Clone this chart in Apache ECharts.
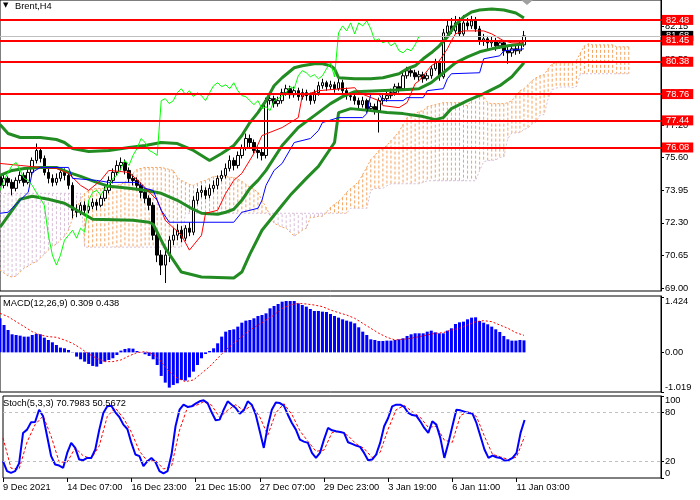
<!DOCTYPE html>
<html><head><meta charset="utf-8">
<script src="https://cdn.jsdelivr.net/npm/echarts@6.0.0/dist/echarts.min.js"></script>
<style>html,body{margin:0;padding:0;background:#fff}#c{width:700px;height:500px}</style>
</head><body><div id="c"></div>
<script>
// ---- data ----
const tickLabels = ["9 Dec 2021","14 Dec 07:00","16 Dec 23:00","21 Dec 15:00","27 Dec 07:00","29 Dec 23:00","3 Jan 19:00","6 Jan 11:00","11 Jan 03:00"];
const slotCount = 165; // bars + ichimoku forward shift + chart margin
const priceTicks = [69.00,70.65,72.30,73.95,75.60,77.20,78.85,80.50,82.15];
const levels = [82.48,81.45,80.38,78.76,77.44,76.08];
const lastPrice = 81.68;
// [open, close, low, high]
const candles = [
[74.63,74.18,73.93,74.83],[74.18,74.53,74.03,74.73],[74.53,74.33,74.13,74.63],[74.33,74.03,73.68,74.48],[74.03,74.43,73.88,74.58],
[74.43,74.68,74.28,74.88],[74.68,74.33,74.13,74.83],[74.33,74.83,74.23,75.03],[74.83,75.43,74.68,75.58],[75.43,75.93,75.28,76.28],
[75.93,75.53,75.33,76.08],[75.53,74.83,74.68,75.68],[74.83,74.53,74.28,75.03],[74.53,74.33,74.13,74.73],[74.33,74.53,74.18,74.78],
[74.53,74.83,74.38,74.98],[74.83,74.68,74.43,75.03],[74.68,74.18,73.98,74.83],[74.18,72.93,72.53,74.33],[72.93,72.83,72.58,73.23],
[72.83,73.18,72.68,73.33],[73.18,72.93,72.73,73.38],[72.93,73.13,72.78,73.28],[73.13,73.33,72.98,73.53],[73.33,73.18,72.93,73.48],
[73.18,73.53,73.08,73.68],[73.53,73.93,73.38,74.13],[73.93,74.43,73.78,74.63],[74.43,74.83,74.28,75.03],[74.83,75.18,74.68,75.43],
[75.18,75.33,74.93,75.58],[75.33,74.93,74.73,75.48],[74.93,74.53,74.33,75.08],[74.53,74.43,74.18,74.73],[74.43,74.18,73.93,74.58],
[74.18,73.83,73.53,74.33],[73.83,73.53,73.28,74.03],[73.53,73.18,72.93,73.68],[73.18,71.68,71.43,73.33],[71.68,70.68,70.33,71.93],
[70.68,70.18,69.68,70.93],[70.18,70.68,69.28,71.03],[70.68,71.43,70.33,71.63],[71.43,71.68,71.18,72.03],[71.68,71.93,71.43,72.23],
[71.93,71.53,71.33,72.13],[71.53,72.03,71.38,72.18],[72.03,71.83,71.63,72.33],[71.83,73.43,71.68,73.63],[73.43,73.83,73.23,74.03],
[73.83,73.93,73.58,74.18],[73.93,73.68,73.48,74.08],[73.68,74.03,73.53,74.23],[74.03,74.18,73.83,74.43],[74.18,74.53,73.98,74.68],
[74.53,74.68,74.38,74.93],[74.68,75.03,74.53,75.28],[75.03,75.43,74.88,75.68],[75.43,75.18,74.93,75.58],[75.18,75.68,75.03,75.88],
[75.68,76.03,75.53,76.23],[76.03,76.53,75.93,76.78],[76.53,76.33,76.08,76.73],[76.33,75.93,75.78,76.48],[75.93,75.83,75.53,76.13],
[75.83,75.68,75.43,76.03],[75.68,78.43,75.53,78.58],[78.43,78.53,78.23,78.78],[78.53,78.28,78.08,78.68],[78.28,78.43,78.13,78.63],
[78.43,78.83,78.28,79.03],[78.83,79.03,78.68,79.23],[79.03,78.73,78.53,79.18],[78.73,78.93,78.58,79.13],[78.93,78.63,78.43,79.08],
[78.63,78.83,78.48,79.03],[78.83,78.68,78.43,78.98],[78.68,78.43,78.23,78.83],[78.43,78.83,78.28,78.98],[78.83,79.18,78.68,79.38],
[79.18,79.33,79.03,79.53],[79.33,79.13,78.93,79.43],[79.13,79.23,78.98,79.43],[79.23,79.03,78.83,79.38],[79.03,79.33,78.93,79.53],
[79.33,78.93,78.78,79.48],[78.93,78.68,78.48,79.08],[78.68,78.63,78.43,78.83],[78.63,78.43,78.23,78.78],[78.43,78.23,78.03,78.58],
[78.23,78.43,78.08,78.63],[78.43,78.03,77.83,78.53],[78.03,78.13,77.88,78.33],[78.13,77.93,77.73,78.28],[77.93,78.43,76.83,78.58],
[78.43,78.53,78.23,78.73],[78.53,78.68,78.38,78.88],[78.68,78.83,78.53,79.03],[78.83,79.13,78.68,79.28],[79.13,79.03,78.83,79.33],
[79.03,79.68,78.93,79.83],[79.68,79.93,79.53,80.13],[79.93,79.83,79.63,80.08],[79.83,79.63,79.48,79.98],[79.63,79.73,79.43,79.93],
[79.73,79.53,79.33,79.88],[79.53,79.68,79.43,79.83],[79.68,80.03,79.53,80.18],[80.03,80.33,79.93,80.53],[80.33,79.63,79.43,80.48],
[79.63,81.83,79.53,82.03],[81.83,82.18,81.68,82.43],[82.18,81.93,81.78,82.58],[81.93,82.33,81.78,82.68],[82.33,81.78,81.63,82.63],
[81.78,82.33,81.68,82.73],[82.33,82.18,81.98,82.58],[82.18,82.43,82.03,82.68],[82.43,82.03,81.88,82.63],[82.03,81.43,81.23,82.18],
[81.43,81.53,81.18,81.78],[81.53,81.33,81.03,81.68],[81.33,81.43,81.13,81.63],[81.43,81.18,80.93,81.58],[81.18,81.33,81.03,81.48],
[81.33,80.93,80.68,81.43],[80.93,80.83,80.28,81.13],[80.83,81.03,80.63,81.23],[81.03,80.93,80.73,81.18],[80.93,81.23,80.78,81.38],
[81.23,81.68,81.13,81.93]
];
// Ichimoku Senkou Span A / B per bar (incl. 26 bars ahead)
const spanA = [
69.93,69.78,69.63,69.58,69.63,69.83,70.03,70.13,70.28,70.33,
70.53,70.73,70.93,71.13,71.23,71.43,71.63,71.93,72.53,73.03,
73.48,73.78,73.93,73.98,74.03,74.03,74.03,74.08,74.13,74.18,
74.23,74.33,74.53,74.78,74.98,75.03,75.08,75.08,75.08,75.08,
75.08,75.03,74.98,74.93,74.58,74.43,74.33,74.23,74.18,74.28,
74.38,74.43,74.53,74.63,74.63,74.63,74.63,74.58,74.58,74.48,
74.38,74.23,74.08,73.98,73.83,73.43,73.08,72.68,72.28,72.18,
72.08,72.03,71.83,71.63,71.78,71.93,72.03,72.58,72.58,72.63,
72.63,72.83,73.08,73.23,73.38,73.58,73.83,74.03,74.18,74.38,
74.73,75.08,75.48,75.68,75.93,76.03,76.18,76.43,76.63,76.88,
77.23,77.58,77.68,77.78,77.88,77.93,78.13,78.18,78.23,78.28,
78.33,78.33,78.33,78.33,78.33,78.23,78.18,78.43,78.68,78.63,
78.63,78.33,78.28,78.28,78.28,78.28,78.33,78.43,78.68,78.93,
79.03,79.23,79.43,79.58,79.68,79.73,80.03,80.28,80.33,80.33,
80.33,80.33,80.33,80.43,80.83,81.18,81.28,81.23,81.23,81.23,
81.23,81.23,81.23,81.13,81.13,81.13,81.13
];
const spanB = [
73.78,73.78,73.78,73.78,73.78,73.78,73.78,73.78,73.78,73.78,
73.78,73.78,73.78,73.78,73.78,73.78,73.78,73.78,73.78,73.78,
73.78,71.08,71.08,71.08,71.08,71.08,71.08,71.08,71.08,71.08,
71.08,71.08,71.08,71.08,71.08,71.08,71.08,71.08,71.08,71.08,
71.08,71.08,71.08,71.08,71.08,71.08,72.78,72.78,72.78,72.78,
72.78,72.78,72.78,72.78,72.78,72.78,72.78,72.78,72.78,72.78,
72.78,72.78,72.78,72.78,72.78,72.78,72.78,72.78,72.78,72.78,
72.78,72.78,72.78,72.78,72.78,72.78,72.78,72.78,72.78,72.78,
72.78,72.78,72.78,72.78,72.78,72.78,72.78,73.03,73.03,73.03,
73.03,73.03,73.93,74.03,74.03,74.03,74.16,74.26,74.26,74.26,
74.26,74.26,74.26,74.26,74.26,74.33,74.41,74.41,74.41,74.41,
74.41,74.41,74.41,74.41,74.41,74.41,74.41,74.41,74.41,74.93,
75.36,75.43,75.43,75.46,75.58,75.61,76.53,76.81,76.81,76.83,
76.98,77.06,77.26,77.36,77.71,77.73,78.53,78.98,79.06,79.11,
79.11,79.13,79.08,79.13,79.78,79.78,79.78,79.78,79.78,79.78,
79.78,79.78,79.78,79.78,79.78,79.78,79.78
];
const tenkan = [[0,75.28],[5,75.18],[10,75.08],[14,75.03],[17,74.78],[20,74.18],[22,73.93],[25,74.43],[27,74.93],[32,74.83],[35,74.28],[39,73.43],[41,72.43],[45,71.68],[47,70.93],[50,71.68],[51,72.78],[54,72.93],[56,73.78],[58,74.43],[60,74.78],[63,75.78],[65,76.68],[70,77.08],[74,77.58],[75,78.68],[79,78.93],[85,79.03],[88,79.08],[89,78.83],[94,78.43],[95,78.18],[99,78.08],[101,78.33],[103,79.28],[104,79.43],[107,80.18],[109,80.43],[111,81.03],[112,81.43],[113,81.78],[115,81.93],[120,81.93],[122,81.78],[125,81.43],[127,81.33],[130,81.33]];
const kijun = [[0,72.78],[2,72.83],[5,73.43],[7,73.83],[8,74.83],[10,75.08],[17,75.08],[18,74.53],[24,74.43],[27,74.33],[34,74.33],[36,74.03],[38,73.93],[40,72.93],[42,72.33],[58,72.33],[60,72.83],[64,73.03],[65,73.43],[66,74.18],[68,74.93],[70,75.28],[73,76.33],[77,76.53],[79,76.93],[80,77.33],[84,77.58],[90,77.58],[91,77.78],[92,78.78],[94,78.78],[95,78.43],[100,78.43],[101,78.58],[105,78.58],[106,78.93],[110,79.03],[111,79.53],[112,79.78],[119,79.83],[120,80.53],[124,80.68],[125,80.93],[130,81.03]];
const bbUpper = [[0,77.23],[2,76.78],[5,76.58],[10,76.58],[14,76.48],[16,76.33],[18,76.03],[22,75.88],[27,75.93],[32,76.08],[36,76.18],[40,76.33],[44,76.28],[48,75.93],[52,75.43],[55,75.78],[58,76.18],[60,76.68],[62,77.33],[64,77.83],[66,78.43],[68,79.18],[70,79.58],[73,80.08],[75,80.18],[78,80.28],[80,80.28],[82,80.18],[83,80.03],[84,79.58],[88,79.53],[92,79.53],[95,79.58],[99,79.78],[101,80.03],[103,80.18],[105,80.53],[107,80.83],[109,81.18],[111,81.63],[113,82.23],[115,82.63],[117,82.88],[119,82.98],[122,83.03],[125,82.98],[128,82.83],[130,82.58]];
const bbMiddle = [[0,74.68],[3,74.93],[6,75.03],[10,75.08],[14,75.08],[17,74.83],[20,74.63],[24,74.33],[27,74.13],[32,74.03],[36,73.93],[40,73.78],[44,73.43],[47,73.08],[50,72.78],[54,72.73],[56,72.83],[58,72.98],[60,73.43],[62,74.03],[64,74.43],[66,74.93],[70,76.18],[74,77.08],[78,77.68],[82,78.28],[85,78.63],[88,78.88],[94,78.93],[100,78.98],[104,79.03],[107,79.33],[110,79.83],[113,80.33],[116,80.63],[119,80.88],[122,81.03],[126,81.18],[130,81.28]];
const bbLower = [[0,72.08],[3,72.93],[5,73.48],[8,73.63],[12,73.48],[16,73.28],[20,72.83],[23,72.48],[33,72.43],[37,72.33],[38,72.23],[41,71.03],[45,69.83],[50,69.58],[58,69.53],[60,69.83],[62,70.73],[65,71.93],[70,73.18],[72,73.68],[76,74.53],[79,75.13],[83,76.33],[84,77.83],[87,78.03],[92,77.93],[96,77.83],[100,77.78],[105,77.63],[108,77.48],[110,77.58],[112,78.03],[116,78.43],[120,78.78],[124,79.18],[127,79.63],[130,80.33]];
const macdHist = [
0.876,0.704,0.576,0.465,0.447,0.430,0.405,0.405,0.447,0.473,
0.465,0.379,0.319,0.259,0.190,0.122,0.105,0.062,-0.007,-0.109,
-0.178,-0.238,-0.298,-0.349,-0.366,-0.298,-0.238,-0.195,-0.152,-0.067,
0.045,0.088,0.105,0.096,0.036,-0.007,-0.049,-0.092,-0.178,-0.324,
-0.606,-0.778,-0.906,-0.838,-0.795,-0.709,-0.726,-0.641,-0.495,-0.324,
-0.152,-0.041,0.036,0.105,0.233,0.405,0.533,0.576,0.593,0.662,
0.764,0.816,0.833,0.876,0.936,0.961,1.004,1.133,1.193,1.244,
1.304,1.321,1.321,1.321,1.261,1.218,1.176,1.116,1.064,1.064,
1.047,1.039,0.987,0.936,0.893,0.850,0.816,0.790,0.747,0.645,
0.533,0.447,0.336,0.319,0.293,0.293,0.302,0.302,0.319,0.336,
0.362,0.422,0.465,0.490,0.490,0.490,0.533,0.559,0.516,0.490,
0.490,0.559,0.619,0.730,0.773,0.790,0.850,0.893,0.902,0.807,
0.764,0.722,0.662,0.593,0.525,0.422,0.336,0.302,0.302,0.319,
0.309];
const macdSignal = [[0,1.004],[2,0.919],[4,0.790],[6,0.662],[8,0.533],[10,0.447],[12,0.405],[14,0.388],[16,0.319],[18,0.233],[20,0.105],[22,-0.041],[24,-0.152],[26,-0.238],[28,-0.238],[30,-0.195],[32,-0.092],[34,-0.007],[36,0.019],[38,-0.041],[40,-0.238],[42,-0.495],[44,-0.666],[46,-0.752],[48,-0.709],[50,-0.538],[52,-0.366],[54,-0.152],[56,0.062],[58,0.233],[60,0.405],[62,0.576],[64,0.700],[66,0.830],[68,0.961],[70,1.133],[72,1.218],[74,1.261],[76,1.244],[78,1.218],[80,1.176],[82,1.090],[84,1.021],[86,0.961],[88,0.876],[90,0.747],[92,0.619],[94,0.490],[96,0.388],[98,0.319],[100,0.336],[102,0.362],[104,0.405],[106,0.447],[108,0.490],[110,0.507],[112,0.576],[114,0.619],[116,0.704],[118,0.790],[120,0.816],[122,0.790],[124,0.704],[126,0.619],[128,0.507],[130,0.438]];
const stochK = [
20.5,8.3,6.3,8.3,17.6,55.0,59.0,68.0,68.3,83.3,
75.2,50.9,26.6,16.4,15.2,12.4,30.6,42.8,36.7,22.5,
21.7,24.5,24.5,34.7,59.0,79.3,87.4,88.2,80.1,74.4,
65.1,59.8,42.8,28.6,26.6,14.4,20.5,24.5,19.3,8.3,
5.5,8.3,28.6,63.1,83.3,89.4,86.6,87.4,90.6,93.5,
94.7,91.4,80.1,70.4,71.2,83.3,93.5,89.4,85.4,78.5,
82.5,93.5,89.4,77.2,57.0,36.7,63.1,83.3,92.2,91.4,
88.2,77.2,67.1,59.0,46.8,44.4,42.8,30.6,24.5,30.6,
46.8,61.0,58.2,57.0,56.2,55.0,43.6,41.6,39.5,37.9,
30.6,21.7,22.5,28.6,42.8,63.1,73.2,87.4,89.4,89.4,
86.6,79.3,76.8,76.0,69.1,61.0,55.0,69.1,65.1,48.9,
24.5,42.8,63.1,83.3,82.5,80.9,79.3,78.5,67.1,50.9,
34.7,24.5,27.4,25.3,24.5,21.3,21.7,24.5,30.6,55.0,
70.8];
const stochD = [[0,48.9],[2,12.0],[4,10.7],[6,43.9],[8,65.1],[10,75.6],[12,50.9],[14,19.4],[16,19.4],[18,36.7],[20,27.0],[22,23.6],[24,39.4],[26,75.2],[28,85.2],[30,73.2],[32,55.9],[34,32.7],[36,20.5],[38,21.4],[40,11.0],[42,14.1],[44,58.3],[46,86.4],[48,88.2],[50,92.9],[52,88.7],[54,73.9],[56,82.7],[58,89.4],[60,82.1],[62,88.5],[64,74.5],[66,52.3],[68,79.5],[70,90.6],[72,77.5],[74,57.6],[76,44.7],[78,32.6],[80,34.0],[82,55.3],[84,57.1],[86,51.6],[88,41.6],[90,36.0],[92,24.9],[94,31.3],[96,59.7],[98,83.3],[100,88.5],[102,80.9],[104,74.0],[106,61.7],[108,63.1],[110,46.2],[112,43.5],[114,76.3],[116,80.9],[118,75.0],[120,50.9],[122,28.9],[124,25.7],[126,22.5],[128,25.6],[130,50.57]];

// ---- build chart ----
const FONT = 'Liberation Sans, Arial, DejaVu Sans, sans-serif';
const FS = 9.3;
const slots = Array.from({length: slotCount}, (_, i) => String(i));
const closes = candles.map(c => c[1]);
const chikou = closes.slice(26).map((v, i) => [i, v]);
const cloud = spanA.map((a, i) => [i, a, spanB[i]]);
const showTick = (idx) => idx % 16 === 0 && idx / 16 < tickLabels.length;

const chart = echarts.init(document.getElementById('c'), null, {renderer: 'canvas'});
const axisLabelBase = {color: '#000', fontFamily: FONT, fontSize: FS, margin: 4};
const lineBase = (data, color, width, extra) => Object.assign({
  type: 'line', data: data, showSymbol: false, symbol: 'none', silent: true,
  lineStyle: {color: color, width: width}, z: 3, animation: false
}, extra || {});

chart.setOption({
  animation: false,
  textStyle: {fontFamily: FONT},
  title: [
    {text: '\u25BC', left: 3, top: 2, padding: 0, textStyle: {fontSize: 7, color: '#000', fontWeight: 'normal', fontFamily: 'DejaVu Sans'}},
    {text: 'Brent,H4', left: 15, top: 1.5, padding: 0, textStyle: {fontSize: FS, color: '#000', fontWeight: 'normal'}},
    {text: 'MACD(12,26,9) 0.309 0.438', left: 3, top: 298.5, padding: 0, textStyle: {fontSize: FS, color: '#000', fontWeight: 'normal'}},
    {text: 'Stoch(5,3,3) 70.7983 50.5672', left: 3, top: 398.5, padding: 0, textStyle: {fontSize: FS, color: '#000', fontWeight: 'normal'}}
  ],
  graphic: [{type: 'polygon', shape: {points: [[521, 0], [533, 0], [527, 5]]}, style: {fill: '#A0A0A0'}, z: 10}],
  grid: [
    {left: -1, right: 39, top: -1, height: 292, show: true, borderColor: '#000', borderWidth: 1},
    {left: -1, right: 39, top: 296, height: 96, show: true, borderColor: '#000', borderWidth: 1},
    {left: -1, right: 39, top: 396, height: 82, show: true, borderColor: '#000', borderWidth: 1}
  ],
  xAxis: [0, 1, 2].map(g => ({
    type: 'category', gridIndex: g, data: slots, boundaryGap: false,
    axisLine: {show: false},
    axisTick: g === 2 ? {show: true, interval: showTick, length: 4, lineStyle: {color: '#000'}} : {show: false},
    axisLabel: g === 2 ? Object.assign({}, axisLabelBase, {
      interval: showTick, align: 'left', margin: 5,
      formatter: (v, idx) => tickLabels[Math.round(idx / 16)]
    }) : {show: false},
    splitLine: {show: false}
  })),
  yAxis: [
    {type: 'value', gridIndex: 0, position: 'right', min: 68.88, max: 83.48, scale: true,
     axisLine: {show: true, lineStyle: {color: '#000'}},
     axisTick: {show: true, length: 3, lineStyle: {color: '#000'}, customValues: priceTicks},
     axisLabel: Object.assign({}, axisLabelBase, {customValues: priceTicks, formatter: v => v.toFixed(2)}),
     splitLine: {show: false}},
    {type: 'value', gridIndex: 1, position: 'right', min: -1.019, max: 1.4497,
     axisLine: {show: true, lineStyle: {color: '#000'}},
     axisTick: {show: true, length: 3, lineStyle: {color: '#000'}, customValues: [-1.019, 0, 1.424]},
     axisLabel: Object.assign({}, axisLabelBase, {customValues: [-1.019, 0, 1.424],
       verticalAlignMinLabel: 'bottom', verticalAlignMaxLabel: 'top',
       formatter: v => (Math.abs(v) < 1e-9 ? '0.00' : v.toFixed(3))}),
     splitLine: {show: false}},
    {type: 'value', gridIndex: 2, position: 'right', min: 0, max: 100,
     axisLine: {show: true, lineStyle: {color: '#000'}},
     axisTick: {show: true, length: 3, lineStyle: {color: '#000'}, customValues: [0, 20, 80, 100]},
     axisLabel: Object.assign({}, axisLabelBase, {customValues: [0, 20, 80, 100],
       verticalAlignMinLabel: 'bottom', verticalAlignMaxLabel: 'top'}),
     splitLine: {show: false}}
  ],
  series: [
    // Ichimoku cloud hatching
    {type: 'custom', xAxisIndex: 0, yAxisIndex: 0, data: cloud, z: 1, silent: true, clip: true,
     renderItem: function (params, api) {
       const p1 = api.coord([api.value(0), api.value(1)]);
       const p2 = api.coord([api.value(0), api.value(2)]);
       const up = api.value(1) >= api.value(2);
       return {type: 'line', shape: {x1: p1[0], y1: p1[1], x2: p1[0], y2: p2[1]},
         style: {stroke: up ? '#F4A460' : '#D8BFD8', lineWidth: 1, lineDash: [3, 2]}};
     }},
    lineBase(spanA, '#F4A460', 1, {z: 1, lineStyle: {color: '#F4A460', width: 1, type: [2, 2]}}),
    lineBase(spanB, '#D8BFD8', 1, {z: 1, lineStyle: {color: '#D8BFD8', width: 1, type: [2, 2]}}),
    // current price line
    {type: 'line', data: [], xAxisIndex: 0, yAxisIndex: 0, z: 1,
     markLine: {silent: true, symbol: ['none', 'none'], animation: false,
       lineStyle: {color: '#C0C0C0', width: 1, type: 'solid'},
       label: {show: true, position: 'end', distance: 1, backgroundColor: '#000', color: '#fff',
         fontSize: FS, fontFamily: FONT, padding: [1, 4, 0, 4], formatter: lastPrice.toFixed(2)},
       data: [{yAxis: lastPrice}]}},
    // candles
    {type: 'candlestick', xAxisIndex: 0, yAxisIndex: 0, data: candles, barWidth: 3, z: 2, silent: true,
     itemStyle: {color: '#FFFFFF', color0: '#000000', borderColor: '#000000', borderColor0: '#000000', borderWidth: 1}},
    // Bollinger bands
    lineBase(bbUpper, '#228B22', 3),
    lineBase(bbMiddle, '#228B22', 3),
    lineBase(bbLower, '#228B22', 3),
    // Ichimoku lines
    lineBase(tenkan, '#FF0000', 1, {z: 4}),
    lineBase(kijun, '#0000FF', 1, {z: 4}),
    lineBase(chikou, '#00FF00', 1, {z: 4}),
    // support / resistance levels
    {type: 'line', data: [], xAxisIndex: 0, yAxisIndex: 0, z: 6,
     markLine: {silent: true, symbol: ['none', 'none'], animation: false,
       lineStyle: {color: '#FF0000', width: 2, type: 'solid'},
       label: {show: true, position: 'end', distance: 1, backgroundColor: '#FF0000', color: '#fff',
         fontSize: FS, fontFamily: FONT, padding: [1, 4, 0, 4], formatter: p => p.value.toFixed(2)},
       data: levels.map(v => ({yAxis: v}))}},
    // MACD
    {type: 'bar', xAxisIndex: 1, yAxisIndex: 1, data: macdHist, barWidth: 3, silent: true,
     itemStyle: {color: '#0000FF'}},
    lineBase(macdSignal, '#FF0000', 1, {xAxisIndex: 1, yAxisIndex: 1, lineStyle: {color: '#FF0000', width: 1, type: [2, 2]}}),
    // Stochastic
    lineBase(stochD, '#FF0000', 1, {xAxisIndex: 2, yAxisIndex: 2, z: 2, lineStyle: {color: '#FF0000', width: 1, type: [3, 2]},
      markLine: {silent: true, symbol: ['none', 'none'], animation: false, label: {show: false},
        lineStyle: {color: '#C0C0C0', width: 1, type: [3, 3]}, data: [{yAxis: 20}, {yAxis: 80}]}}),
    lineBase(stochK, '#0000FF', 2, {xAxisIndex: 2, yAxisIndex: 2, z: 3})
  ]
});
</script>
</body></html>
